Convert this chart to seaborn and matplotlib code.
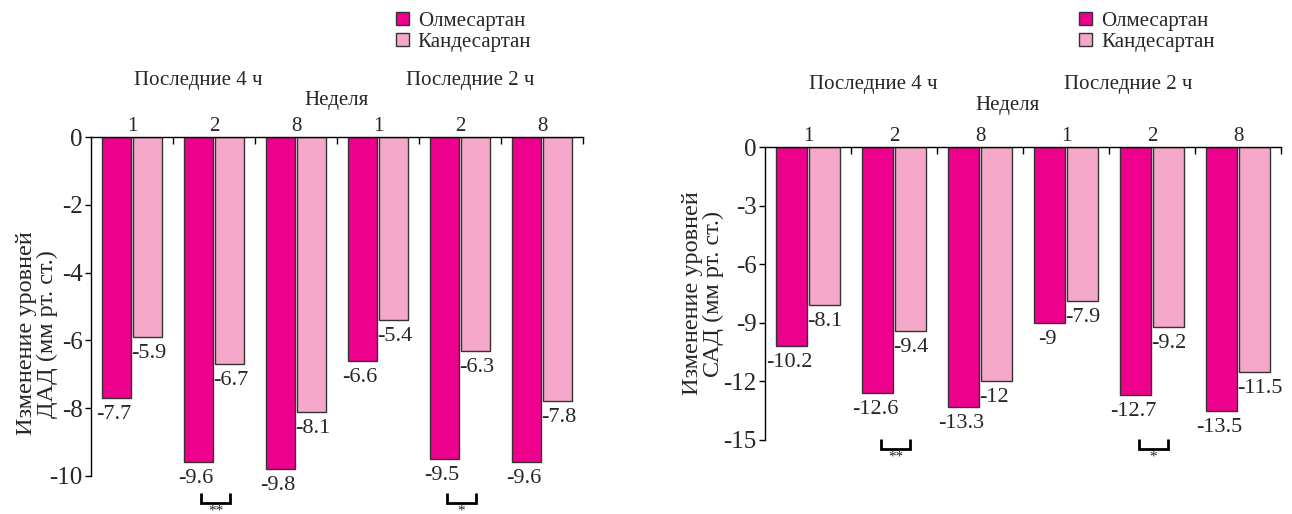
import numpy as np
import pandas as pd
import matplotlib
matplotlib.use('Agg')
import matplotlib.pyplot as plt
import seaborn as sns

sns.set_style('white')
plt.rcParams['font.family'] = ['Liberation Serif', 'DejaVu Serif']
plt.rcParams['axes.unicode_minus'] = False

# Data
slots = ['4ч-1', '4ч-2', '4ч-8', '2ч-1', '2ч-2', '2ч-8']
week_labels = ['1', '2', '8', '1', '2', '8']
drugs = ['Олмесартан', 'Кандесартан']

dad_olm = [-7.7, -9.6, -9.8, -6.6, -9.5, -9.6]
dad_cand = [-5.9, -6.7, -8.1, -5.4, -6.3, -7.8]
sad_olm = [-10.2, -12.6, -13.3, -9.0, -12.7, -13.5]
sad_cand = [-8.1, -9.4, -12.0, -7.9, -9.2, -11.5]

dad_ticks = [0, -2, -4, -6, -8, -10]
sad_ticks = [0, -3, -6, -9, -12, -15]

sig_groups = [1, 4]
sig_marks = ['**', '*']

COLOR_OLM = '#EC008C'
COLOR_CAND = '#F5A8C9'
EDGE = '#333333'


def draw_panel(ax, olm, cand, yticks, ylabel, label_xy, title_x, title_y, week_y,
               legend_xy, bracket_y):
    df = pd.DataFrame({
        'slot': slots * 2,
        'drug': [drugs[0]] * len(slots) + [drugs[1]] * len(slots),
        'value': olm + cand,
    })
    sns.barplot(df, x='slot', y='value', hue='drug', order=slots, hue_order=drugs,
                palette=[COLOR_OLM, COLOR_CAND], saturation=1, width=0.76, gap=0.05,
                edgecolor=EDGE, linewidth=1, legend=False, ax=ax)

    ax.set_xlim(-0.5, len(slots) - 0.5)
    ax.set_ylim(min(yticks), 0)
    ax.set_xlabel('')

    # week labels on top, group separators as small inward ticks
    ax.xaxis.tick_top()
    ax.set_xticks(range(len(slots)))
    ax.set_xticklabels(week_labels)
    ax.set_xticks(np.arange(0.5, len(slots), 1), minor=True)
    ax.tick_params(axis='x', which='major', length=0, pad=1, labelsize=15)
    ax.tick_params(axis='x', which='minor', top=True, bottom=False, direction='in',
                   length=5, width=1, color='black')

    ax.set_yticks(yticks)
    ax.set_yticklabels([f"{t:g}" for t in yticks])
    ax.tick_params(axis='y', left=True, direction='out', length=4, width=1,
                   color='black', labelsize=18, pad=2)
    ax.set_ylabel(ylabel, fontsize=17.5, linespacing=0.95)
    ax.yaxis.set_label_coords(*label_xy)

    ax.spines['right'].set_visible(False)
    ax.spines['bottom'].set_visible(False)
    for s in ['top', 'left']:
        ax.spines[s].set_color('black')
        ax.spines[s].set_linewidth(1)

    # value labels
    for k, container in enumerate(ax.containers):
        for bar, v in zip(container, container.datavalues):
            if k == 0:
                ax.annotate(f"{v:g}", (bar.get_x() + bar.get_width() / 2, v),
                            xytext=(-2, -5), textcoords='offset points',
                            ha='center', va='top', fontsize=16, annotation_clip=False)
            else:
                ax.annotate(f"{v:g}", (bar.get_x(), v),
                            xytext=(-1, -5), textcoords='offset points',
                            ha='left', va='top', fontsize=16, annotation_clip=False)

    # significance brackets
    top, bot = bracket_y
    for g, mark in zip(sig_groups, sig_marks):
        b0 = ax.containers[0][g]
        b1 = ax.containers[1][g]
        x0 = b0.get_x() + b0.get_width() * 0.6
        x1 = b1.get_x() + b1.get_width() / 2
        ax.plot([x0, x0, x1, x1], [top, bot, bot, top], color='black', lw=2,
                clip_on=False, solid_joinstyle='miter', solid_capstyle='butt')
        ax.annotate(mark, ((x0 + x1) / 2, bot), xytext=(0, -1), textcoords='offset points',
                    ha='center', va='top', fontsize=11, annotation_clip=False)

    # group titles
    ax.text(title_x[0], title_y, 'Последние 4 ч', transform=ax.transAxes,
            ha='center', va='center', fontsize=15)
    ax.text(title_x[1], title_y, 'Последние 2 ч', transform=ax.transAxes,
            ha='center', va='center', fontsize=15)
    ax.text(title_x[2], week_y, 'Неделя', transform=ax.transAxes,
            ha='center', va='center', fontsize=15)

    ax.legend(handles=ax.containers, labels=drugs, loc='upper left',
              bbox_to_anchor=legend_xy, bbox_transform=ax.figure.transFigure,
              frameon=False, fontsize=15, handlelength=0.6, handleheight=0.6,
              handletextpad=0.45, labelspacing=0.1, borderaxespad=0, borderpad=0)


fig = plt.figure(figsize=(12.92, 5.14), dpi=100)
W, H = 1292, 514
ax1 = fig.add_axes([91 / W, 1 - 476 / H, (583 - 91) / W, (476 - 137) / H])
ax2 = fig.add_axes([765 / W, 1 - 440 / H, (1281 - 765) / W, (440 - 147) / H])

draw_panel(ax1, dad_olm, dad_cand, dad_ticks, 'Изменение уровней\nДАД (мм рт. ст.)',
           label_xy=(-0.068, 0.42), title_x=(0.217, 0.771, 0.499), title_y=1.168,
           week_y=1.109, legend_xy=(396 / W, 1 - 12 / H), bracket_y=(-10.5, -10.8))
draw_panel(ax2, sad_olm, sad_cand, sad_ticks, 'Изменение уровней\nСАД (мм рт. ст.)',
           label_xy=(-0.08, 0.5), title_x=(0.209, 0.704, 0.47), title_y=1.212,
           week_y=1.14, legend_xy=(1079 / W, 1 - 12 / H), bracket_y=(-14.95, -15.45))

fig.savefig('out.png', dpi=100, facecolor='white')
